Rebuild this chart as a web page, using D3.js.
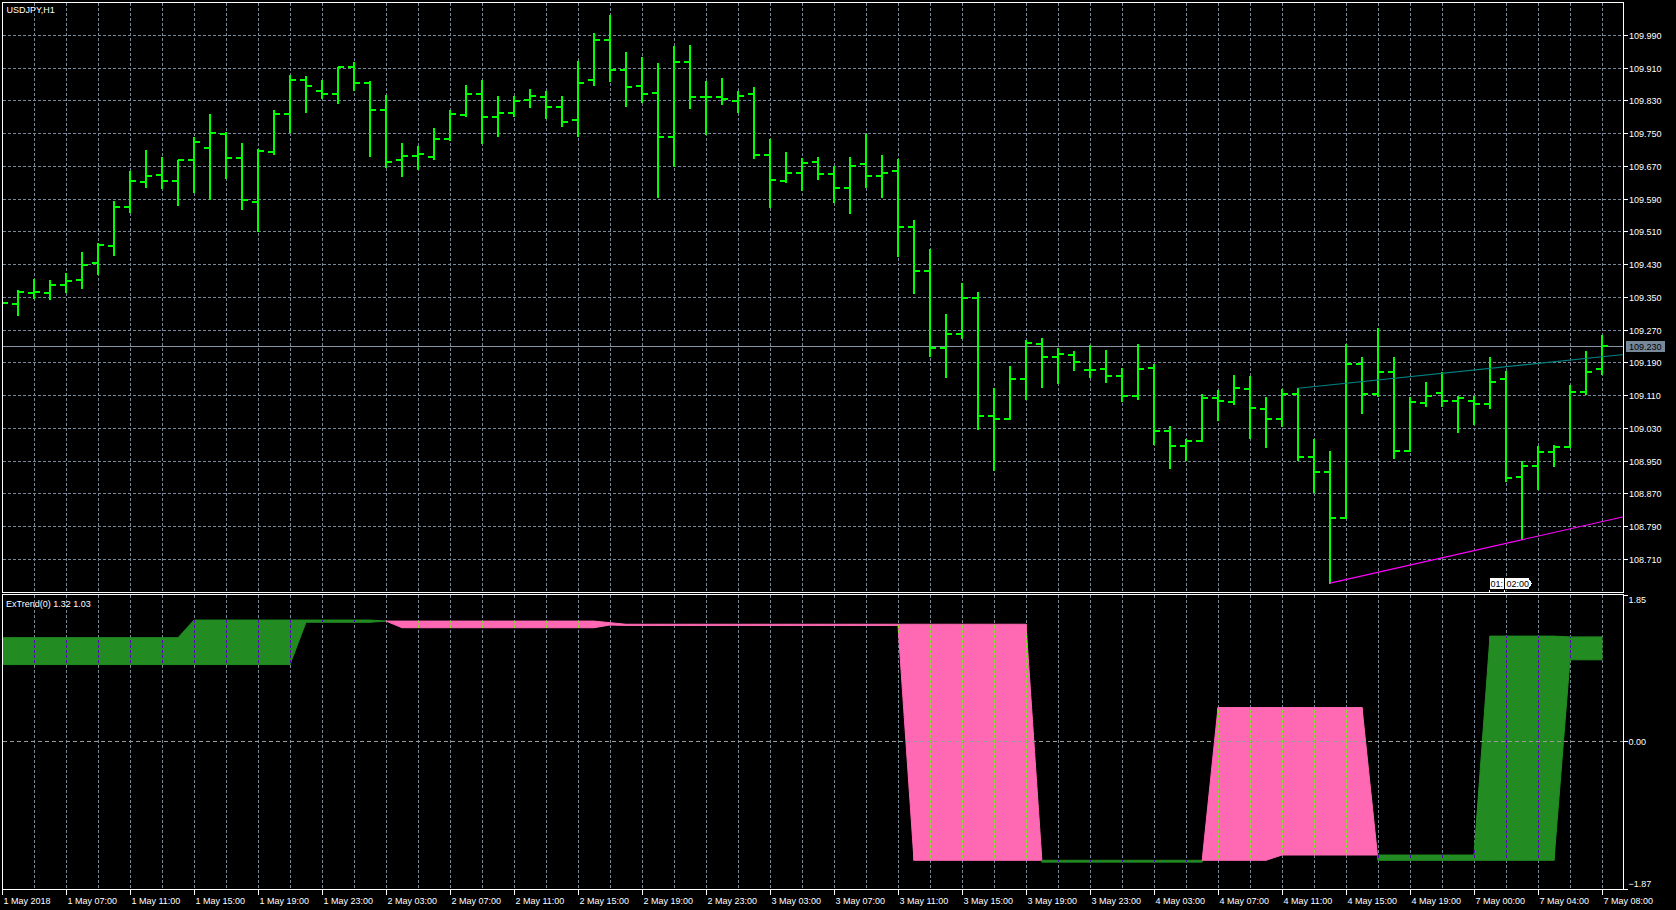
<!DOCTYPE html>
<html>
<head>
<meta charset="utf-8">
<script src="https://cdn.jsdelivr.net/npm/d3@7"></script>
<style>
html, body { margin:0; padding:0; background:#000; }
svg { display:block; }
text { font-family:"Liberation Sans", Arial, sans-serif; font-size:9px; fill:#fff; }
</style>
</head>
<body>
<div id="chart"></div>
<script>
// USDJPY H1 bars
var barOpen = [109.330,109.333,109.360,109.359,109.380,109.391,109.432,109.474,109.571,109.632,
  109.647,109.634,109.684,109.713,109.748,109.689,109.583,109.704,109.796,109.881,
  109.853,109.845,109.911,109.872,109.806,109.684,109.695,109.691,109.735,109.794,
  109.845,109.789,109.799,109.830,109.838,109.813,109.782,109.879,109.978,109.904,
  109.865,109.848,109.742,109.924,109.838,109.838,109.829,109.846,109.697,109.633,
  109.652,109.680,109.651,109.617,109.675,109.646,109.657,109.521,109.413,109.225,
  109.260,109.347,109.059,109.051,109.149,109.235,109.203,109.208,109.172,109.173,
  109.156,109.107,109.176,109.023,108.985,108.998,109.103,109.093,109.126,109.076,
  109.051,109.114,108.959,108.922,108.809,109.186,109.112,109.168,108.975,109.092,
  109.115,109.096,109.096,109.088,109.149,108.911,108.938,108.972,108.984,109.117,
  109.173];
var barHigh = [109.345,109.366,109.393,109.392,109.408,109.459,109.482,109.585,109.659,109.708,
  109.693,109.685,109.741,109.798,109.754,109.725,109.712,109.807,109.893,109.890,
  109.879,109.913,109.923,109.878,109.844,109.726,109.719,109.763,109.807,109.869,
  109.881,109.842,109.842,109.857,109.854,109.840,109.927,109.994,110.039,109.949,
  109.936,109.922,109.962,109.966,109.877,109.886,109.854,109.862,109.737,109.705,
  109.689,109.691,109.671,109.691,109.747,109.696,109.686,109.539,109.467,109.309,
  109.383,109.361,109.127,109.182,109.245,109.250,109.226,109.217,109.232,109.221,
  109.176,109.236,109.187,109.035,109.004,109.112,109.123,109.160,109.156,109.106,
  109.126,109.127,109.002,108.975,109.234,109.203,109.274,109.204,109.106,109.143,
  109.166,109.107,109.107,109.204,109.170,108.950,108.987,108.988,109.134,109.218,
  109.258];
var barLow = [109.318,109.306,109.347,109.344,109.361,109.371,109.406,109.452,109.558,109.618,
  109.616,109.574,109.606,109.590,109.641,109.565,109.512,109.699,109.754,109.802,
  109.835,109.824,109.855,109.694,109.668,109.646,109.663,109.687,109.734,109.793,
  109.726,109.743,109.791,109.814,109.788,109.768,109.743,109.869,109.878,109.816,
  109.826,109.594,109.671,109.811,109.747,109.821,109.802,109.689,109.570,109.631,
  109.611,109.638,109.581,109.555,109.618,109.594,109.451,109.359,109.205,109.155,
  109.249,109.028,108.927,109.051,109.101,109.129,109.140,109.171,109.155,109.143,
  109.096,109.102,108.990,108.933,108.952,108.998,109.050,109.088,109.005,108.983,
  109.035,108.952,108.873,108.651,108.809,109.067,109.107,108.956,108.974,109.084,
  109.084,109.020,109.039,109.079,108.900,108.758,108.882,108.937,108.983,109.112,
  109.161];
var barClose = [109.335,109.361,109.361,109.379,109.389,109.428,109.476,109.571,109.634,109.646,
  109.634,109.684,109.728,109.750,109.689,109.586,109.706,109.796,109.881,109.865,
  109.845,109.911,109.872,109.806,109.679,109.695,109.699,109.735,109.796,109.845,
  109.789,109.800,109.828,109.840,109.813,109.777,109.872,109.978,109.904,109.863,
  109.845,109.742,109.924,109.838,109.838,109.833,109.842,109.697,109.635,109.652,
  109.677,109.651,109.617,109.670,109.646,109.652,109.522,109.413,109.225,109.260,
  109.347,109.059,109.051,109.149,109.237,109.203,109.210,109.190,109.171,109.158,
  109.107,109.173,109.023,108.987,108.999,109.103,109.096,109.127,109.078,109.051,
  109.114,108.959,108.922,108.809,109.186,109.112,109.168,108.973,109.093,109.108,
  109.096,109.104,109.088,109.142,108.909,108.938,108.972,108.984,109.119,109.168,
  109.230];

// ExTrend(0) buffers
var trendFast = [1.31,1.31,1.31,1.31,1.31,1.31,1.31,1.31,1.31,1.31,
  1.31,1.31,1.533,1.533,1.533,1.533,1.533,1.533,1.533,1.533,
  1.533,1.533,1.533,1.533,1.52,1.436,1.436,1.436,1.436,1.436,
  1.436,1.436,1.436,1.436,1.436,1.436,1.436,1.436,1.47,1.465,
  1.465,1.465,1.465,1.465,1.465,1.465,1.465,1.465,1.465,1.465,
  1.465,1.465,1.465,1.465,1.465,1.465,1.465,-1.507,-1.507,-1.507,
  -1.507,-1.507,-1.507,-1.507,-1.507,-1.507,-1.507,-1.507,-1.507,-1.507,
  -1.507,-1.507,-1.507,-1.507,-1.507,-1.507,-1.507,-1.507,-1.507,-1.507,
  -1.44,-1.44,-1.44,-1.44,-1.44,-1.44,-1.44,-1.44,-1.44,-1.44,
  -1.44,-1.44,-1.44,1.33,1.33,1.33,1.33,1.33,1.32,1.32,
  1.32];
var trendSlow = [0.97,0.97,0.97,0.97,0.97,0.97,0.97,0.97,0.97,0.97,
  0.97,0.97,0.97,0.97,0.97,0.97,0.97,0.97,0.97,1.505,
  1.505,1.505,1.505,1.505,1.52,1.52,1.52,1.52,1.52,1.52,
  1.52,1.52,1.52,1.52,1.52,1.52,1.52,1.52,1.50,1.48,
  1.48,1.48,1.48,1.48,1.48,1.48,1.48,1.48,1.48,1.48,
  1.48,1.48,1.48,1.48,1.48,1.48,1.48,1.48,1.48,1.48,
  1.48,1.48,1.48,1.48,1.48,-1.53,-1.53,-1.53,-1.53,-1.53,
  -1.53,-1.53,-1.53,-1.53,-1.53,-1.53,0.426,0.426,0.426,0.426,
  0.426,0.426,0.426,0.426,0.426,0.426,-1.507,-1.507,-1.507,-1.507,
  -1.507,-1.507,-1.507,-1.507,-1.507,-1.507,-1.507,-1.507,1.03,1.03,
  1.03];

var priceTicks = [109.990,109.910,109.830,109.750,109.670,109.590,109.510,109.430,109.350,
  109.270,109.190,109.110,109.030,108.950,108.870,108.790,108.710];
var trendTicks = [1.85, 0.00, -1.87];
var timeBars = [0,4,8,12,16,20,24,28,32,36,40,44,48,52,56,60,64,68,72,76,80,84,88,92,96,100];
var timeLabels = ["1 May 2018","1 May 07:00","1 May 11:00","1 May 15:00","1 May 19:00","1 May 23:00",
  "2 May 03:00","2 May 07:00","2 May 11:00","2 May 15:00","2 May 19:00","2 May 23:00",
  "3 May 03:00","3 May 07:00","3 May 11:00","3 May 15:00","3 May 19:00","3 May 23:00",
  "4 May 03:00","4 May 07:00","4 May 11:00","4 May 15:00","4 May 19:00",
  "7 May 00:00","7 May 04:00","7 May 08:00"];

var bidPrice = 109.230;
var resistLine = [[81, 109.127], [100, 109.204]];
var supportLine = [[83, 108.651], [95, 108.757]];
var timerBars = [93, 94];
var timerTexts = ["01:", "02:00"];

var W = 1676, H = 910;
var gridColor = "#778899";
var svg = d3.select("#chart").append("svg")
    .attr("width", W).attr("height", H)
    .style("background", "#000")
    .attr("shape-rendering", "crispEdges");

var x = d3.scaleLinear().domain([0, 100]).range([2, 1602]);
var y = d3.scaleLinear().domain([108.710, 109.990]).range([559, 35]);
var yi = d3.scaleLinear().domain([-1.87, 1.85]).range([889, 595]);
var px = function(v){ return Math.round(v) + 0.5; };

var mainTop = 2.5, mainBot = 592.5, indTop = 594.5, indBot = 889.5, left = 2.5, right = 1623.5;

var defs = svg.append("defs");
defs.append("clipPath").attr("id", "clipMain").append("rect")
    .attr("x", 3).attr("y", 3).attr("width", right - 3).attr("height", mainBot - 3);
defs.append("clipPath").attr("id", "clipInd").append("rect")
    .attr("x", 3).attr("y", indTop + 0.5).attr("width", right - 3).attr("height", indBot - indTop - 1);

var gridBars = d3.range(2, 101, 2);

// ---------- main panel ----------
var main = svg.append("g").attr("clip-path", "url(#clipMain)");

main.selectAll("line.vgrid").data(gridBars).enter().append("line")
    .attr("x1", function(d){ return px(x(d)); }).attr("x2", function(d){ return px(x(d)); })
    .attr("y1", mainTop).attr("y2", mainBot)
    .style("stroke", gridColor).style("stroke-dasharray", "3,2");

main.selectAll("line.hgrid").data(priceTicks).enter().append("line")
    .attr("x1", left).attr("x2", right)
    .attr("y1", function(d){ return px(y(d)); }).attr("y2", function(d){ return px(y(d)); })
    .style("stroke", gridColor).style("stroke-dasharray", "3,2");

main.append("line")
    .attr("x1", left).attr("x2", right)
    .attr("y1", px(y(bidPrice))).attr("y2", px(y(bidPrice)))
    .style("stroke", "#8795a3");

var bars = main.selectAll("g.bar").data(barOpen).enter().append("g").attr("class", "bar");
bars.append("rect")
    .attr("x", function(d, i){ return Math.round(x(i)) - 1; })
    .attr("y", function(d, i){ return Math.round(y(barHigh[i])); })
    .attr("width", 2)
    .attr("height", function(d, i){ return Math.round(y(barLow[i])) - Math.round(y(barHigh[i])) + 1; })
    .style("fill", "#00ff00");
bars.append("rect")
    .attr("x", function(d, i){ return Math.round(x(i)) - 6; })
    .attr("y", function(d, i){ return Math.round(y(barOpen[i])) - 1; })
    .attr("width", 6).attr("height", 2)
    .style("fill", "#00ff00");
bars.append("rect")
    .attr("x", function(d, i){ return Math.round(x(i)); })
    .attr("y", function(d, i){ return Math.round(y(barClose[i])) - 1; })
    .attr("width", 6).attr("height", 2)
    .style("fill", "#00ff00");

// trend lines, extended to the right edge
var extendTo = x.invert(right);
function rayPath(seg){
    var a = seg[0], b = seg[1];
    var k = (b[1] - a[1]) / (b[0] - a[0]);
    var end = a[1] + k * (extendTo - a[0]);
    return "M" + x(a[0]) + "," + y(a[1]) + "L" + x(extendTo) + "," + y(end);
}
main.append("path").attr("d", rayPath(resistLine))
    .attr("shape-rendering", "auto")
    .style("stroke", "#008080").style("stroke-width", 1.1).style("fill", "none");
main.append("path").attr("d", rayPath(supportLine))
    .attr("shape-rendering", "auto")
    .style("stroke", "#ff00ff").style("stroke-width", 1.1).style("fill", "none");

// countdown labels at the bottom
var tb = [x(timerBars[0]) - 1.5, x(timerBars[1]) - 1.5];
main.append("line").attr("x1", px(tb[0])).attr("x2", px(tb[0])).attr("y1", 588).attr("y2", mainBot).style("stroke", "#fff");
main.append("line").attr("x1", px(tb[1])).attr("x2", px(tb[1])).attr("y1", 588).attr("y2", mainBot).style("stroke", "#fff");
main.append("path")
    .attr("d", "M" + px(tb[0]) + ",577.5H" + px(tb[1]) + "V589.5H" + px(tb[0]) + "Z")
    .style("fill", "#fff").style("stroke", "#000");
main.append("text").attr("x", tb[0] + 2).attr("y", 586.5).style("fill", "#000").text(timerTexts[0]);
main.append("path")
    .attr("d", "M" + px(tb[1]) + ",577.5H" + (tb[1] + 24) + "l4,6l-4,6H" + px(tb[1]) + "Z")
    .style("fill", "#fff").style("stroke", "#000");
main.append("text").attr("x", tb[1] + 2).attr("y", 586.5).style("fill", "#000").text(timerTexts[1]);

main.append("text").attr("x", 6.5).attr("y", 13.3).text("USDJPY,H1");

// ---------- indicator panel ----------
var pieces = [];
for (var i = 1; i < trendFast.length; i++) {
    var a0 = trendFast[i-1], b0 = trendSlow[i-1], a1 = trendFast[i], b1 = trendSlow[i];
    var d0 = a0 - b0, d1 = a1 - b1;
    if (d0 * d1 < 0) {
        var t = d0 / (d0 - d1), xm = i - 1 + t, vm = a0 + t * (a1 - a0);
        pieces.push({up: d0 > 0, pts: [[i-1, a0], [xm, vm], [i-1, b0]]});
        pieces.push({up: d1 > 0, pts: [[xm, vm], [i, a1], [i, b1]]});
    } else {
        pieces.push({up: (d0 + d1) >= 0, pts: [[i-1, a0], [i, a1], [i, b1], [i-1, b0]]});
    }
}
var poly = d3.line().x(function(p){ return x(p[0]); }).y(function(p){ return yi(p[1]); });
var upColor = "#228b22", dnColor = "#ff69b4";

var ind = svg.append("g").attr("clip-path", "url(#clipInd)");

ind.selectAll("line.vgrid").data(gridBars).enter().append("line")
    .attr("x1", function(d){ return px(x(d)); }).attr("x2", function(d){ return px(x(d)); })
    .attr("y1", indTop).attr("y2", indBot)
    .style("stroke", gridColor).style("stroke-dasharray", "3,2");

ind.selectAll("path.fill").data(pieces).enter().append("path")
    .attr("d", function(p){ return poly(p.pts) + "Z"; })
    .attr("shape-rendering", "auto")
    .style("fill", function(p){ return p.up ? upColor : dnColor; })
    .style("stroke", function(p){ return p.up ? upColor : dnColor; })
    .style("stroke-width", 1);

// grid drawn XOR-style over the filling, like the terminal does
[["clipUp", true, "#5503bb"], ["clipDn", false, "#88e12d"]].forEach(function(c){
    var cp = defs.append("clipPath").attr("id", c[0]);
    cp.selectAll("path").data(pieces.filter(function(p){ return p.up === c[1]; })).enter().append("path")
        .attr("d", function(p){ return poly(p.pts) + "Z"; });
    var g = ind.append("g").attr("clip-path", "url(#" + c[0] + ")");
    g.selectAll("line").data(gridBars).enter().append("line")
        .attr("x1", function(d){ return px(x(d)); }).attr("x2", function(d){ return px(x(d)); })
        .attr("y1", indTop).attr("y2", indBot)
        .style("stroke", c[2]).style("stroke-dasharray", "3,2");
});

ind.append("line")
    .attr("x1", left).attr("x2", right)
    .attr("y1", px(yi(0))).attr("y2", px(yi(0)))
    .style("stroke", "#9a9a9a").style("stroke-dasharray", "4,3");

ind.append("text").attr("x", 6).attr("y", 606.7)
    .text("ExTrend(0) " + d3.format(".2f")(trendFast[100]) + " " + d3.format(".2f")(trendSlow[100]));

// ---------- frames and axes ----------
svg.append("rect").attr("x", left).attr("y", mainTop).attr("width", right - left).attr("height", mainBot - mainTop)
    .style("fill", "none").style("stroke", "#fff");
svg.append("rect").attr("x", left).attr("y", indTop).attr("width", right - left).attr("height", indBot - indTop)
    .style("fill", "none").style("stroke", "#fff");

var pAxis = svg.append("g");
pAxis.selectAll("line").data(priceTicks).enter().append("line")
    .attr("x1", right).attr("x2", right + 4)
    .attr("y1", function(d){ return px(y(d)); }).attr("y2", function(d){ return px(y(d)); })
    .style("stroke", "#fff");
pAxis.selectAll("text").data(priceTicks).enter().append("text")
    .attr("x", 1629).attr("y", function(d){ return Math.round(y(d)) + 3.5; })
    .text(d3.format(".3f"));

// bid label
var by = Math.round(y(bidPrice));
svg.append("rect").attr("x", 1626).attr("y", by - 5).attr("width", 39).attr("height", 11)
    .style("fill", "#778899");
svg.append("text").attr("x", 1629).attr("y", by + 3.5).style("fill", "#000").text(d3.format(".3f")(bidPrice));

var iAxis = svg.append("g");
iAxis.selectAll("line").data(trendTicks).enter().append("line")
    .attr("x1", right).attr("x2", right + 4)
    .attr("y1", function(d){ return px(yi(d)); }).attr("y2", function(d){ return px(yi(d)); })
    .style("stroke", "#fff");
iAxis.selectAll("text").data(trendTicks).enter().append("text")
    .attr("x", 1628.5)
    .attr("y", function(d, i){ return Math.round(yi(d)) + (i === 0 ? 7.5 : (i === 1 ? 3.5 : -2)); })
    .text(d3.format(".2f"));

var tAxis = svg.append("g");
tAxis.selectAll("line").data(timeBars).enter().append("line")
    .attr("x1", function(d){ return px(x(d)); }).attr("x2", function(d){ return px(x(d)); })
    .attr("y1", indBot).attr("y2", indBot + 5)
    .style("stroke", "#fff");
tAxis.selectAll("text").data(timeBars).enter().append("text")
    .attr("x", function(d){ return Math.round(x(d)) + 1.5; })
    .attr("y", 904)
    .text(function(d, i){ return timeLabels[i]; });
</script>
</body>
</html>
